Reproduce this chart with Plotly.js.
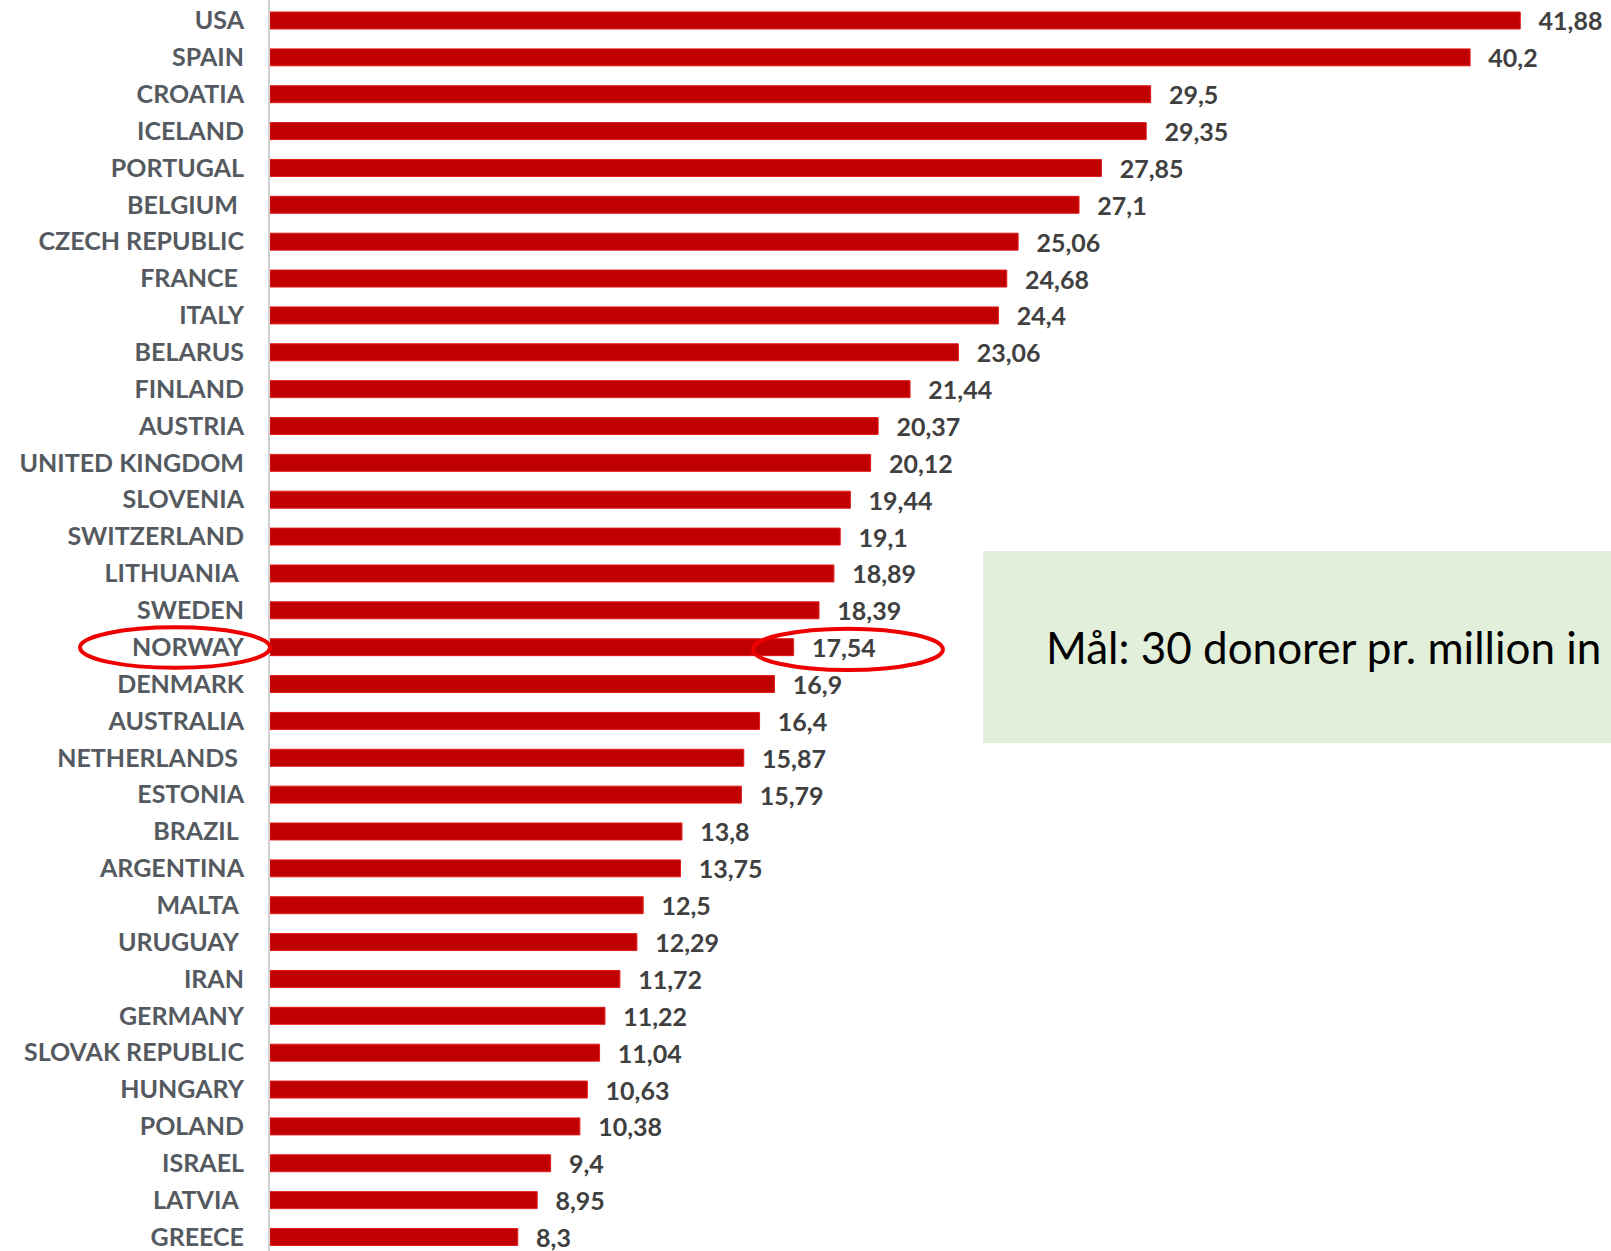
<!DOCTYPE html>
<html>
<head>
<meta charset="utf-8">
<script src="https://cdn.plot.ly/plotly-3.0.1.min.js"></script>
<style>html,body{margin:0;padding:0;background:#fff;}#chart{width:1611px;height:1251px;}</style>
</head>
<body>
<div id="chart"></div>
<script>
const countries = ["USA","SPAIN","CROATIA","ICELAND","PORTUGAL","BELGIUM","CZECH REPUBLIC","FRANCE","ITALY","BELARUS","FINLAND","AUSTRIA","UNITED KINGDOM","SLOVENIA","SWITZERLAND","LITHUANIA","SWEDEN","NORWAY","DENMARK","AUSTRALIA","NETHERLANDS","ESTONIA","BRAZIL","ARGENTINA","MALTA","URUGUAY","IRAN","GERMANY","SLOVAK REPUBLIC","HUNGARY","POLAND","ISRAEL","LATVIA","GREECE"];
const donors = [41.88,40.2,29.5,29.35,27.85,27.1,25.06,24.68,24.4,23.06,21.44,20.37,20.12,19.44,19.1,18.89,18.39,17.54,16.9,16.4,15.87,15.79,13.8,13.75,12.5,12.29,11.72,11.22,11.04,10.63,10.38,9.4,8.95,8.3];
// tick labels as displayed (some carry a trailing space in the source)
const tickLabels = ["USA","SPAIN","CROATIA","ICELAND","PORTUGAL","BELGIUM\u00a0","CZECH REPUBLIC","FRANCE\u00a0","ITALY","BELARUS","FINLAND","AUSTRIA","UNITED KINGDOM","SLOVENIA","SWITZERLAND","LITHUANIA\u00a0","SWEDEN","NORWAY","DENMARK","AUSTRALIA","NETHERLANDS\u00a0","ESTONIA","BRAZIL\u00a0","ARGENTINA","MALTA\u00a0","URUGUAY\u00a0","IRAN","GERMANY","SLOVAK REPUBLIC","HUNGARY","POLAND","ISRAEL","LATVIA\u00a0","GREECE"];
const highlight = "NORWAY";
const goalText = "Mål: 30 donorer pr. million in";

const valueText = donors.map(v => String(v).replace('.', ','));

const yTop = -0.556, yBottom = 33.38;
const xMax = 44.92;
const hi = countries.indexOf(highlight);
const hv = donors[hi];
const toPaperY = idx => 1 - (idx - yTop) / (yBottom - yTop);

const trace = {
  type: 'bar',
  orientation: 'h',
  y: countries,
  x: donors,
  text: valueText,
  texttemplate: '\u00a0\u00a0\u2009%{text}',
  textposition: 'outside',
  cliponaxis: false,
  constraintext: 'none',
  textfont: {family: 'Lato', size: 25, color: '#404040', weight: 700},
  marker: {color: '#c00000', line: {color: '#e41a1a', width: 1}},
  hoverinfo: 'skip'
};

const layout = {
  width: 1611, height: 1251,
  margin: {l: 270, r: 0, t: 0, b: 0, pad: 0},
  paper_bgcolor: '#ffffff', plot_bgcolor: '#ffffff',
  showlegend: false,
  bargap: 0.54,
  xaxis: {range: [0, xMax], showgrid: false, zeroline: false, showticklabels: false, showline: false, fixedrange: true},
  yaxis: {
    type: 'category', categoryorder: 'array', categoryarray: countries,
    tickmode: 'array', tickvals: countries, ticktext: tickLabels,
    range: [yBottom, yTop], autorange: false,
    showgrid: false, zeroline: false, ticks: '',
    showline: true, linecolor: '#d0d0d0', linewidth: 2,
    ticklabelstandoff: 19,
    tickfont: {family: 'Lato', size: 25, color: '#555a60', weight: 700}
  },
  shapes: [
    {type: 'rect', xref: 'paper', yref: 'paper', x0: 0.5317, x1: 1.0, y0: 0.4061, y1: 0.5596,
     fillcolor: '#e2efda', line: {width: 0}, layer: 'below'},
    {type: 'circle', xref: 'paper', yref: 'paper', x0: -0.1417, x1: 0.0,
     y0: toPaperY(hi + 0.56), y1: toPaperY(hi - 0.54), line: {color: '#ee0000', width: 4}},
    {type: 'circle', xref: 'x', yref: 'paper', x0: hv - 1.36, x1: hv + 5.0,
     y0: toPaperY(hi + 0.62), y1: toPaperY(hi - 0.5), line: {color: '#ee0000', width: 4}}
  ],
  annotations: [
    {xref: 'paper', yref: 'paper', x: 0.5772, y: 0.4828, xanchor: 'left', yanchor: 'middle',
     text: goalText, showarrow: false, font: {family: 'Lato', size: 44, color: '#000000'}}
  ]
};

Plotly.newPlot('chart', [trace], layout, {displayModeBar: false, staticPlot: true});
</script>
</body>
</html>
